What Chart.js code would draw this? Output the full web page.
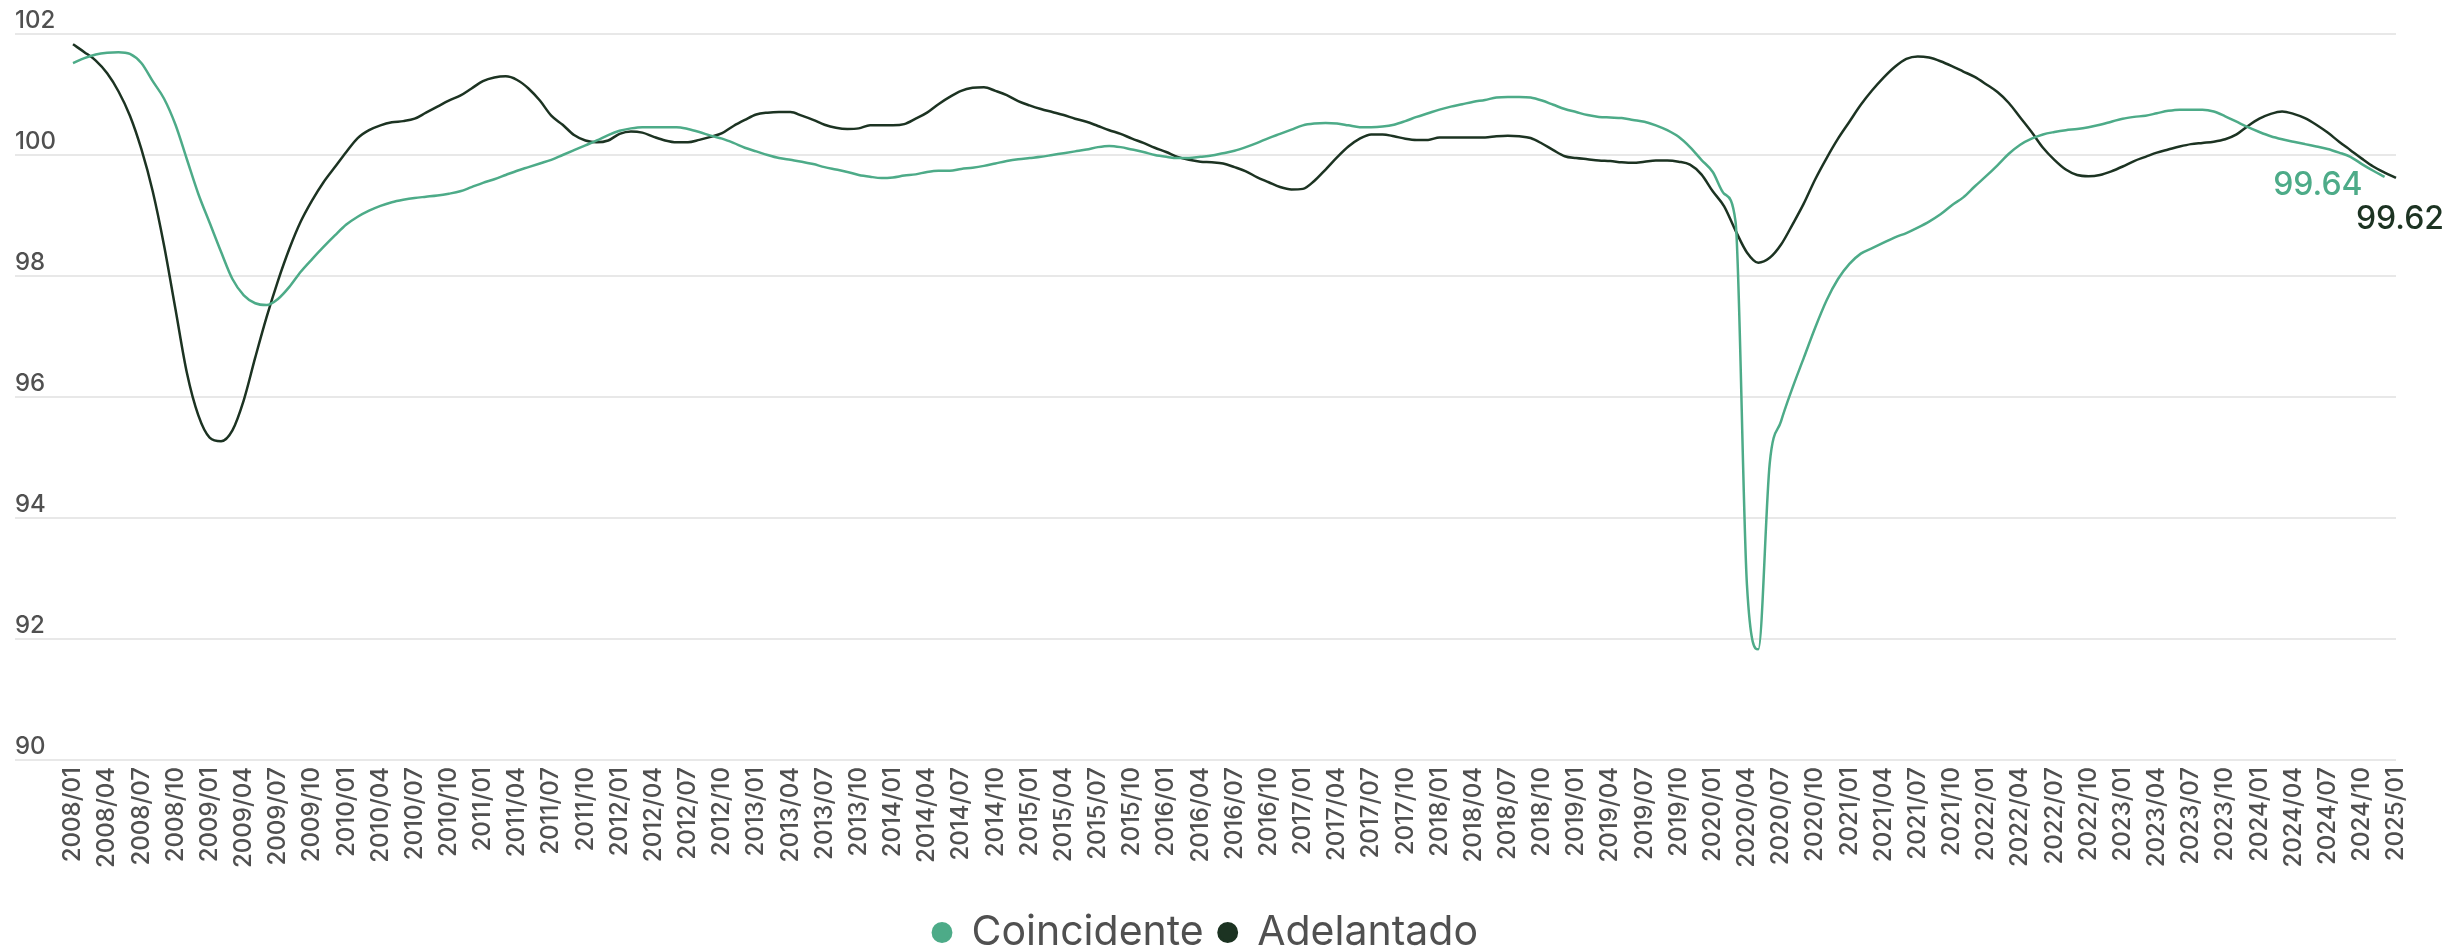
<!DOCTYPE html>
<html lang="es">
<head>
<meta charset="utf-8">
<title>Coincidente y Adelantado</title>
<script src="https://cdn.jsdelivr.net/npm/chart.js@4.4.1/dist/chart.umd.min.js"></script>
<style>
  html, body { margin: 0; padding: 0; background: #fff; }
  #contenedor { position: relative; width: 2448px; height: 947px; }
</style>
</head>
<body>
<div id="contenedor"><canvas id="grafico"></canvas></div>
<script>
// serie mensual 2008/01 - 2025/01
const anioInicio = 2008;
const totalMeses = 205;
const meses = [];
for (let k = 0; k < totalMeses; k++) {
  const anio = anioInicio + Math.floor(k / 12);
  const mes = (k % 12) + 1;
  meses.push(anio + '/' + String(mes).padStart(2, '0'));
}

const coincidente = [
  101.52, 101.60, 101.66, 101.69, 101.70, 101.67, 101.52, 101.22, 100.93, 100.50,
  99.93, 99.36, 98.88, 98.40, 97.95, 97.68, 97.55, 97.52, 97.62, 97.82,
  98.07, 98.28, 98.48, 98.67, 98.85, 98.98, 99.08, 99.16, 99.22, 99.26,
  99.29, 99.31, 99.33, 99.36, 99.40, 99.47, 99.54, 99.60, 99.67, 99.74,
  99.80, 99.86, 99.92, 100.00, 100.08, 100.16, 100.24, 100.33, 100.40, 100.44,
  100.46, 100.46, 100.46, 100.46, 100.43, 100.38, 100.32, 100.27, 100.20, 100.12,
  100.06, 100.00, 99.95, 99.92, 99.89, 99.85, 99.80, 99.76, 99.72, 99.67,
  99.64, 99.62, 99.63, 99.66, 99.68, 99.72, 99.74, 99.74, 99.77, 99.79,
  99.82, 99.86, 99.90, 99.93, 99.95, 99.97, 100.00, 100.03, 100.06, 100.09,
  100.13, 100.15, 100.13, 100.09, 100.05, 100.00, 99.97, 99.95, 99.95, 99.97,
  99.99, 100.03, 100.07, 100.13, 100.20, 100.28, 100.35, 100.42, 100.49, 100.52,
  100.53, 100.52, 100.49, 100.46, 100.46, 100.47, 100.50, 100.56, 100.63, 100.69,
  100.75, 100.80, 100.84, 100.88, 100.91, 100.95, 100.96, 100.96, 100.95, 100.90,
  100.83, 100.76, 100.71, 100.66, 100.63, 100.62, 100.61, 100.58, 100.55, 100.49,
  100.41, 100.30, 100.13, 99.92, 99.72, 99.36, 98.90, 92.90, 91.83, 94.90,
  95.60, 96.15, 96.65, 97.15, 97.60, 97.95, 98.20, 98.37, 98.46, 98.55,
  98.64, 98.71, 98.80, 98.90, 99.02, 99.17, 99.30, 99.48, 99.65, 99.83,
  100.02, 100.17, 100.27, 100.34, 100.38, 100.41, 100.43, 100.46, 100.50, 100.55,
  100.60, 100.63, 100.65, 100.69, 100.73, 100.75, 100.75, 100.75, 100.72, 100.64,
  100.55, 100.46, 100.38, 100.31, 100.26, 100.22, 100.18, 100.14, 100.10, 100.04,
  99.97, 99.85, 99.74, 99.64, null
];

const adelantado = [
  101.83, 101.70, 101.56, 101.35, 101.05, 100.65, 100.10, 99.40, 98.50, 97.45,
  96.40, 95.70, 95.33, 95.27, 95.45, 95.95, 96.65, 97.32, 97.92, 98.45,
  98.90, 99.25, 99.55, 99.80, 100.05, 100.28, 100.41, 100.49, 100.54, 100.56,
  100.60, 100.70, 100.80, 100.90, 100.98, 101.10, 101.22, 101.28, 101.30, 101.24,
  101.10, 100.90, 100.65, 100.50, 100.33, 100.24, 100.21, 100.24, 100.35, 100.39,
  100.37, 100.30, 100.24, 100.21, 100.21, 100.25, 100.30, 100.36, 100.48, 100.58,
  100.67, 100.70, 100.71, 100.71, 100.65, 100.58, 100.50, 100.45, 100.43, 100.44,
  100.49, 100.49, 100.49, 100.51, 100.60, 100.70, 100.84, 100.96, 101.06, 101.11,
  101.12, 101.06, 100.99, 100.89, 100.82, 100.76, 100.71, 100.66, 100.60, 100.55,
  100.48, 100.41, 100.35, 100.27, 100.20, 100.12, 100.05, 99.97, 99.92, 99.89,
  99.88, 99.86, 99.80, 99.73, 99.63, 99.55, 99.47, 99.43, 99.44, 99.57,
  99.76, 99.96, 100.14, 100.27, 100.34, 100.34, 100.31, 100.27, 100.25, 100.25,
  100.29, 100.29, 100.29, 100.29, 100.29, 100.31, 100.32, 100.31, 100.28, 100.19,
  100.08, 99.98, 99.95, 99.93, 99.91, 99.90, 99.88, 99.87, 99.89, 99.91,
  99.91, 99.89, 99.84, 99.68, 99.40, 99.15, 98.75, 98.39, 98.22, 98.30,
  98.52, 98.85, 99.20, 99.60, 99.95, 100.27, 100.55, 100.83, 101.07, 101.28,
  101.46, 101.59, 101.63, 101.61, 101.55, 101.47, 101.38, 101.29, 101.17, 101.04,
  100.86, 100.62, 100.38, 100.12, 99.92, 99.76, 99.67, 99.65, 99.67, 99.73,
  99.81, 99.90, 99.97, 100.04, 100.09, 100.14, 100.18, 100.20, 100.22, 100.26,
  100.34, 100.48, 100.60, 100.68, 100.72, 100.68, 100.61, 100.50, 100.37, 100.22,
  100.08, 99.94, 99.81, 99.71, 99.62
];

const ejeY = { min: 90, max: 102, paso: 2 };

const verde = '#4dab88';
const oscuro = '#1c3322';
const gris = '#505050';
const fuente = 'Inter, "Noto Sans", sans-serif';

// rótulo con el último valor de cada serie
const ultimoValor = {
  id: 'ultimoValor',
  afterDatasetsDraw(chart) {
    const ctx = chart.ctx;
    chart.data.datasets.forEach((ds, i) => {
      let j = ds.data.length - 1;
      while (j >= 0 && ds.data[j] == null) j--;
      if (j < 0) return;
      const p = chart.getDatasetMeta(i).data[j];
      const r = ds.rotulo;
      ctx.save();
      ctx.font = '500 32px ' + fuente;
      ctx.fillStyle = ds.borderColor;
      ctx.textAlign = r.align;
      ctx.textBaseline = 'middle';
      ctx.fillText(ds.data[j].toFixed(2), p.x + r.dx, p.y + r.dy);
      ctx.restore();
    });
  }
};

new Chart(document.getElementById('grafico'), {
  type: 'line',
  data: {
    labels: meses,
    datasets: [
      {
        label: 'Coincidente',
        data: coincidente,
        borderColor: verde,
        backgroundColor: verde,
        borderWidth: 2.5,
        pointRadius: 0,
        cubicInterpolationMode: 'monotone',
        rotulo: { dx: -22, dy: 9, align: 'right' }
      },
      {
        label: 'Adelantado',
        data: adelantado,
        borderColor: oscuro,
        backgroundColor: oscuro,
        borderWidth: 2.5,
        pointRadius: 0,
        cubicInterpolationMode: 'monotone',
        rotulo: { dx: 4, dy: 41, align: 'center' }
      }
    ]
  },
  options: {
    responsive: true,
    maintainAspectRatio: false,
    devicePixelRatio: 1,
    animation: false,
    events: [],
    layout: { padding: { left: 15, right: 52, top: 34, bottom: 0 } },
    scales: {
      x: {
        grid: { display: false, drawTicks: false },
        border: { display: false },
        ticks: {
          autoSkip: false,
          minRotation: 90,
          maxRotation: 90,
          padding: 7,
          color: gris,
          font: { family: fuente, size: 24, weight: '500' },
          callback: (v, i) => (i % 3 === 0 ? meses[i] : null)
        },
        afterFit: s => { s.height = 137; }
      },
      y: {
        min: ejeY.min,
        max: ejeY.max,
        border: { display: false },
        grid: { color: '#e8e8e8', lineWidth: 2, drawTicks: true, tickLength: 58 },
        ticks: {
          stepSize: ejeY.paso,
          crossAlign: 'far',
          labelOffset: -13,
          padding: 0,
          color: gris,
          font: { family: fuente, size: 24, weight: '500' }
        },
        afterFit: s => { s.width = 58; }
      }
    },
    plugins: {
      tooltip: { enabled: false },
      legend: {
        position: 'bottom',
        maxHeight: 50,
        labels: {
          usePointStyle: true,
          pointStyle: 'circle',
          boxWidth: 18,
          boxHeight: 13,
          padding: 15,
          color: gris,
          font: { family: fuente, size: 41 }
        }
      }
    }
  },
  plugins: [ultimoValor]
});
</script>
</body>
</html>
